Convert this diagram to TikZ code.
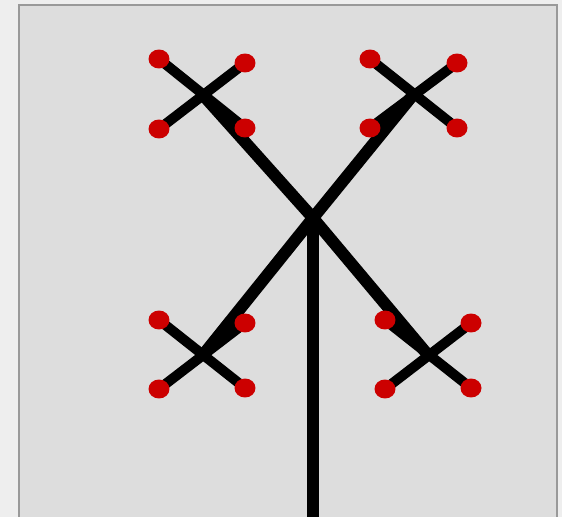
\documentclass[tikz,border=0pt]{standalone}
\usetikzlibrary{shapes.geometric}
\definecolor{outerbg}{HTML}{EEEEEE}
\definecolor{panelbg}{HTML}{DDDDDD}
\definecolor{panelrim}{HTML}{999999}
\definecolor{budred}{HTML}{CC0000}
\pgfdeclarelayer{panel}
\pgfdeclarelayer{branches}
\pgfsetlayers{panel,branches,main}
\begin{document}
\begin{tikzpicture}[
        x=0.02cm, y=-0.02cm,
        trunk/.style={line width=6.8pt, black},
        twig/.style={line width=5.7pt, black},
        bud/.style={ellipse, fill=budred, inner sep=0pt, minimum width=0.42cm, minimum height=0.38cm}
    ]
        \useasboundingbox (0,0) rectangle (562,517);
        \begin{pgfonlayer}{panel}
            \fill[outerbg] (0,0) rectangle (562,517);
            \fill[panelbg] (19,5) rectangle (557,517);
            \draw[panelrim, line width=1.2pt] (19,517) -- (19,5) -- (557,5) -- (557,517);
        \end{pgfonlayer}

        % junctions
        \coordinate (root) at (313,218);
        \coordinate (foot) at (313,517);
        \coordinate (hub_tl) at (203,95);
        \coordinate (hub_tr) at (413,95);
        \coordinate (hub_bl) at (203,355);
        \coordinate (hub_br) at (428,355);

        % buds
        \node[bud] (tl_a) at (159,59) {};
        \node[bud] (tl_b) at (245,63) {};
        \node[bud] (tl_c) at (159,129) {};
        \node[bud] (tl_d) at (245,128) {};
        \node[bud] (tr_a) at (370,59) {};
        \node[bud] (tr_b) at (457,63) {};
        \node[bud] (tr_c) at (370,128) {};
        \node[bud] (tr_d) at (457,128) {};
        \node[bud] (bl_a) at (159,320) {};
        \node[bud] (bl_b) at (245,323) {};
        \node[bud] (bl_c) at (159,389) {};
        \node[bud] (bl_d) at (245,388) {};
        \node[bud] (br_a) at (385,320) {};
        \node[bud] (br_b) at (471,323) {};
        \node[bud] (br_c) at (385,389) {};
        \node[bud] (br_d) at (471,388) {};

        % branches, under the buds
        \begin{pgfonlayer}{branches}
            \draw[trunk] (root) -- (foot);
            \draw[trunk] (hub_tl) -- (root) -- (hub_br);
            \draw[trunk] (hub_tr) -- (root) -- (hub_bl);

            \draw[twig] (tl_a.center) -- (tl_d.center);
            \draw[twig] (tl_b.center) -- (tl_c.center);
            \draw[twig] (tr_a.center) -- (tr_d.center);
            \draw[twig] (tr_b.center) -- (tr_c.center);
            \draw[twig] (bl_a.center) -- (bl_d.center);
            \draw[twig] (bl_b.center) -- (bl_c.center);
            \draw[twig] (br_a.center) -- (br_d.center);
            \draw[twig] (br_b.center) -- (br_c.center);
        \end{pgfonlayer}
\end{tikzpicture}
\end{document}
